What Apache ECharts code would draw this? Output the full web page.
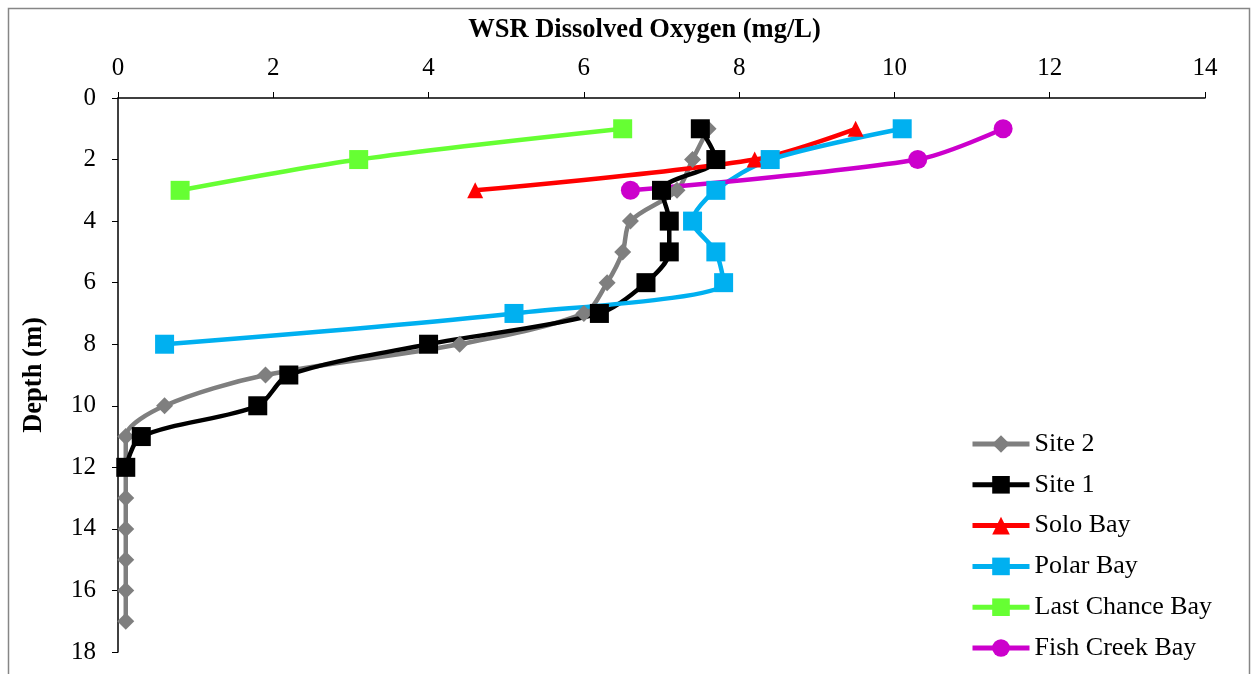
<!DOCTYPE html>
<html>
<head>
    <meta charset="UTF-8">
    <title>WSR Dissolved Oxygen</title>
    <script type="text/javascript" src="https://cdn.jsdelivr.net/npm/echarts@6/dist/echarts.min.js"></script>
    <style type="text/css">
        html, body { margin: 0; padding: 0; background: #fff; }
        #chart { width: 1253px; height: 674px; }
    </style>
</head>
<body>
<div id="chart"></div>
<script type="text/javascript">
    // depth (m) and dissolved oxygen (mg/L) for each profile
    var site2Depth = [1, 2, 3, 4, 5, 6, 7, 8, 9, 10, 11, 12, 13, 14, 15, 16, 17];
    var site2DO = [7.6, 7.4, 7.2, 6.6, 6.5, 6.3, 6.0, 4.4, 1.9, 0.6, 0.1, 0.1, 0.1, 0.1, 0.1, 0.1, 0.1];

    var site1Depth = [1, 2, 3, 4, 5, 6, 7, 8, 9, 10, 11, 12];
    var site1DO = [7.5, 7.7, 7.0, 7.1, 7.1, 6.8, 6.2, 4.0, 2.2, 1.8, 0.3, 0.1];

    var soloDepth = [1, 2, 3];
    var soloDO = [9.5, 8.2, 4.6];

    var polarDepth = [1, 2, 3, 4, 5, 6, 7, 8];
    var polarDO = [10.1, 8.4, 7.7, 7.4, 7.7, 7.8, 5.1, 0.6];

    var lastChanceDepth = [1, 2, 3];
    var lastChanceDO = [6.5, 3.1, 0.8];

    var fishCreekDepth = [1, 2, 3];
    var fishCreekDO = [11.4, 10.3, 6.6];

    function pairs(xs, ys) {
        return xs.map(function (x, i) { return [x, ys[i]]; });
    }

    var font = '"Liberation Serif", "Times New Roman", serif';

    function mkSeries(name, xs, ys, color, symbol, size) {
        return {
            name: name,
            type: 'line',
            smooth: 0.3,
            symbol: symbol,
            symbolSize: size,
            data: pairs(xs, ys),
            lineStyle: {color: color, width: 4.5},
            itemStyle: {color: color},
            z: 2
        };
    }

    var chart = echarts.init(document.getElementById('chart'));
    chart.setOption({
        animation: false,
        backgroundColor: '#fff',
        textStyle: {fontFamily: font},
        graphic: [{
            type: 'rect',
            shape: {x: 8.5, y: 8.5, width: 1241, height: 700},
            style: {fill: 'none', stroke: '#868686', lineWidth: 1.5},
            silent: true
        }],
        grid: {left: 118, top: 98, right: 48, bottom: 22},
        legend: {
            orient: 'vertical',
            left: 965,
            top: 426,
            itemWidth: 57,
            itemHeight: 22,
            itemGap: 14.8,
            lineStyle: {width: 5},
            textStyle: {fontFamily: font, fontSize: 26, color: '#000'},
            data: ['Site 2', 'Site 1', 'Solo Bay', 'Polar Bay', 'Last Chance Bay', 'Fish Creek Bay']
        },
        xAxis: {
            type: 'value',
            position: 'top',
            min: 0, max: 14, interval: 2,
            name: 'WSR Dissolved Oxygen (mg/L)',
            nameLocation: 'middle',
            nameGap: 54,
            nameTextStyle: {fontFamily: font, fontSize: 26.5, fontWeight: 'bold', color: '#000', padding: [0, 34, 0, 0]},
            axisLine: {show: true, lineStyle: {color: '#000', width: 1.5}},
            axisTick: {show: true, length: 6, lineStyle: {color: '#000'}},
            axisLabel: {fontFamily: font, fontSize: 25, color: '#000', margin: 17},
            splitLine: {show: false}
        },
        yAxis: {
            type: 'value',
            inverse: true,
            min: 0, max: 18, interval: 2,
            name: 'Depth (m)',
            nameLocation: 'middle',
            nameGap: 70,
            nameRotate: 90,
            nameTextStyle: {fontFamily: font, fontSize: 26.5, fontWeight: 'bold', color: '#000'},
            axisLine: {show: true, lineStyle: {color: '#000', width: 1.5}},
            axisTick: {show: true, length: 6, lineStyle: {color: '#000'}},
            axisLabel: {fontFamily: font, fontSize: 25, color: '#000', margin: 22},
            splitLine: {show: false}
        },
        series: [
            mkSeries('Site 2', site2DO, site2Depth, '#7f7f7f', 'diamond', 17),
            mkSeries('Site 1', site1DO, site1Depth, '#000000', 'rect', 19),
            mkSeries('Solo Bay', soloDO, soloDepth, '#ff0000', 'triangle', 16),
            mkSeries('Polar Bay', polarDO, polarDepth, '#00b0f0', 'rect', 19),
            mkSeries('Last Chance Bay', lastChanceDO, lastChanceDepth, '#66ff33', 'rect', 19),
            mkSeries('Fish Creek Bay', fishCreekDO, fishCreekDepth, '#cc00cc', 'circle', 19)
        ]
    });
</script>
</body>
</html>
